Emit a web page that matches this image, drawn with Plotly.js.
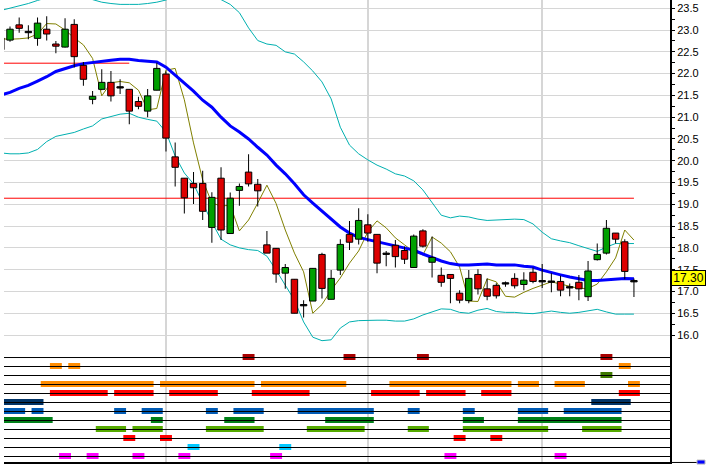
<!DOCTYPE html>
<html><head><meta charset="utf-8">
<script src="https://cdn.plot.ly/plotly-3.0.1.min.js"></script>
<style>html,body{margin:0;padding:0;background:#fff;overflow:hidden}#chart{width:711px;height:465px}</style>
</head><body><div id="chart"></div>
<script>
// candle positions (trading-day index; -1 is the partly hidden bar at the left edge)
const candleIndex = Array.from({length: 70}, (_, k) => k - 1);
const openPx  = [22.82,22.77,23.12,22.94,22.81,23.02,22.68,22.61,23.13,22.19,21.41,21.64,21.80,21.67,21.64,21.36,21.14,21.62,21.99,20.09,
 19.60,19.48,19.48,18.47,19.60,18.33,19.32,19.74,19.46,18.07,17.99,17.42,17.28,16.67,16.78,17.85,16.82,17.49,18.31,18.20,
 18.53,18.31,17.85,18.06,17.94,17.55,18.39,17.67,17.37,17.39,16.96,16.79,17.39,17.06,17.14,17.17,17.30,17.16,17.44,17.22,
 17.21,17.23,17.08,17.21,16.88,17.73,17.88,18.34,18.14,17.22];
const highPx  = [22.82,23.08,23.29,23.11,23.29,23.32,22.75,23.27,23.25,22.27,21.60,22.10,22.06,21.87,21.64,21.47,21.65,22.25,22.05,20.42,
 19.60,19.74,19.77,19.28,19.85,19.27,19.48,20.15,19.58,18.39,18.00,17.63,17.28,16.80,17.53,17.89,17.49,18.20,18.62,18.91,
 18.77,18.31,17.93,18.18,18.03,18.31,18.43,18.26,17.55,17.39,17.03,17.49,17.51,17.30,17.19,17.23,17.42,17.44,17.55,17.63,
 17.42,17.36,17.18,17.38,17.70,18.10,18.64,18.34,18.20,17.30];
const lowPx   = [22.53,22.73,22.94,22.79,22.64,22.76,22.47,22.60,22.14,21.72,21.30,21.62,21.36,21.53,20.84,21.18,21.00,21.62,20.21,19.41,
 18.79,19.01,18.64,18.12,18.18,18.33,18.97,19.41,18.95,17.88,17.20,17.06,16.50,16.40,16.78,16.84,16.82,17.38,17.95,18.08,
 18.14,17.42,17.58,17.55,17.63,17.55,18.01,17.32,17.11,16.73,16.73,16.73,16.93,16.80,16.84,17.11,17.07,17.03,17.19,17.08,
 16.98,16.89,16.89,16.80,16.78,17.71,17.85,18.10,17.28,16.87];
const closePx = [22.55,23.02,23.04,22.94,23.16,22.91,22.63,23.02,22.39,21.87,21.48,21.80,21.49,21.67,21.14,21.25,21.49,22.12,20.52,19.85,
 19.15,19.38,18.84,19.16,18.41,19.14,19.41,19.47,19.31,17.88,17.40,17.55,16.50,16.67,17.53,17.07,17.30,18.08,18.13,18.63,
 18.34,17.65,17.85,17.80,17.74,18.27,18.04,17.78,17.21,17.30,16.80,17.30,17.06,16.89,16.90,17.17,17.13,17.26,17.23,17.22,
 17.21,17.03,17.08,17.06,17.47,17.85,18.45,18.20,17.46,17.22];
const maBlue = [21.51,21.57,21.66,21.73,21.83,21.93,22.05,22.12,22.18,22.23,22.26,22.29,22.31,22.33,22.33,22.30,22.29,22.27,22.15,21.97,
 21.80,21.60,21.39,21.23,21.00,20.80,20.66,20.50,20.31,20.13,19.90,19.70,19.47,19.22,19.03,18.84,18.66,18.48,18.34,18.24,
 18.19,18.14,18.10,18.04,17.99,17.95,17.86,17.78,17.70,17.64,17.61,17.61,17.62,17.63,17.61,17.61,17.61,17.58,17.56,17.49,
 17.43,17.38,17.33,17.29,17.25,17.25,17.27,17.29,17.30,17.29];
const maOlive = [22.80,22.79,22.80,22.82,22.91,23.15,23.14,23.00,22.82,22.66,22.35,21.49,21.79,21.82,21.79,21.62,21.17,21.20,22.08,22.12,
 21.40,20.41,19.56,19.03,18.96,18.98,18.39,18.64,19.03,19.44,19.02,18.41,17.88,17.45,16.50,16.70,17.03,17.31,17.65,17.93,
 18.37,18.62,18.46,18.23,18.07,17.91,17.84,18.25,18.11,17.91,17.56,16.78,16.77,17.29,17.22,16.89,16.87,16.98,17.07,17.14,
 17.22,17.17,17.12,17.07,17.07,17.17,17.45,17.77,18.41,18.18];
const bandUpper = [23.45,23.50,23.55,23.61,23.68,23.74,23.78,23.80,23.80,23.77,23.70,23.64,23.61,23.59,23.59,23.59,23.61,23.64,23.69,23.78,
 23.82,23.84,23.83,23.78,23.70,23.59,23.40,23.05,22.76,22.68,22.65,22.50,22.45,22.27,22.06,21.81,21.42,20.77,20.36,20.16,
 20.02,19.90,19.81,19.70,19.65,19.54,19.33,19.05,18.75,18.69,18.73,18.71,18.66,18.63,18.64,18.66,18.66,18.65,18.55,18.36,
 18.21,18.16,18.12,18.05,17.99,17.92,18.02,18.10,18.10,18.10];
const bandLower = [20.18,20.16,20.16,20.18,20.26,20.44,20.56,20.60,20.65,20.73,20.80,20.96,21.02,21.07,21.09,21.00,20.95,20.91,20.66,20.11,
 19.72,19.47,19.03,18.59,18.20,18.07,18.00,17.96,17.94,17.81,17.49,17.15,16.80,16.30,15.95,15.87,15.89,16.16,16.30,16.33,
 16.34,16.34,16.34,16.32,16.32,16.37,16.46,16.53,16.60,16.59,16.52,16.50,16.57,16.61,16.54,16.52,16.52,16.50,16.49,16.52,
 16.55,16.52,16.50,16.52,16.55,16.59,16.53,16.48,16.48,16.48];
const levelValues = [22.24, 19.14];
const levelStart  = [-1, -1];
const levelEnd    = [13, 68];
const lastPriceLabel = '17.30';
const lastPriceValue = 17.30;
const monthStarts = [17, 39, 58];

// signal panel: one list of [firstBar, lastBar] per row, top to bottom
const signalColors = ['#a80000','#ff8c00','#3f7a00','#ff8c00','#ff0000','#003366','#005bb5','#008018','#55aa00','#ff0000','#00c8ff','#ff00ff'];
const signalRows = [
  [[26,26],[37,37],[45,45],[65,65]],
  [[5,5],[7,7],[67,67]],
  [[65,65]],
  [[4,15],[17,26],[28,36],[42,54],[56,57],[60,62],[68,68]],
  [[5,10],[12,15],[18,22],[27,32],[40,44],[46,49],[52,54],[67,68]],
  [[-3,3],[64,67]],
  [[-3,1],[3,3],[12,12],[15,16],[22,22],[25,27],[32,39],[44,44],[50,50],[56,58],[61,66]],
  [[-3,4],[16,16],[24,26],[35,39],[50,51],[56,66]],
  [[10,12],[14,16],[22,27],[33,38],[44,45],[50,58],[63,66]],
  [[13,13],[17,17],[49,49],[53,53]],
  [[20,20],[30,30]],
  [[6,6],[9,9],[14,14],[19,19],[29,29],[48,48],[60,60]]
];

const GREEN = '#00a000', RED = '#dd0000';
const traces = [];
traces.push({type:'scatter', mode:'lines', x:candleIndex, y:bandUpper, line:{color:'#00b0b0', width:1}, xaxis:'x', yaxis:'y', hoverinfo:'skip'});
traces.push({type:'scatter', mode:'lines', x:candleIndex, y:bandLower, line:{color:'#00b0b0', width:1}, xaxis:'x', yaxis:'y', hoverinfo:'skip'});
levelValues.forEach((v, k) => {
  traces.push({type:'scatter', mode:'lines', x:[levelStart[k], levelEnd[k]], y:[v, v], line:{color:'#ff0000', width:1}, xaxis:'x', yaxis:'y', hoverinfo:'skip'});
});
traces.push({type:'scatter', mode:'lines', x:candleIndex, y:maOlive, line:{color:'#808000', width:1}, xaxis:'x', yaxis:'y', hoverinfo:'skip'});
traces.push({type:'scatter', mode:'lines', x:candleIndex, y:maBlue, line:{color:'#0000ff', width:3}, xaxis:'x', yaxis:'y', hoverinfo:'skip'});

// candles: wicks then bodies, on an overlaid axis so they sit above the lines
traces.push({type:'bar', x:candleIndex, base:lowPx, y:highPx.map((h, k) => h - lowPx[k]), width:0.11,
  marker:{color:'#000', line:{width:0}}, xaxis:'x', yaxis:'y3', hoverinfo:'skip'});
const bodyBase = openPx.map((o, k) => Math.min(o, closePx[k]));
const bodyLen = openPx.map((o, k) => Math.max(Math.abs(closePx[k] - o), 0.03));
const bodyCol = openPx.map((o, k) => closePx[k] > o ? GREEN : (closePx[k] < o ? RED : '#000'));
traces.push({type:'bar', x:candleIndex, base:bodyBase, y:bodyLen, width:0.7,
  marker:{color:bodyCol, line:{color:'#000', width:1}}, xaxis:'x', yaxis:'y3', hoverinfo:'skip'});

// signal bars
const sy = [], sx = [], sb = [], sc = [];
signalRows.forEach((row, r) => row.forEach(([a, b]) => {
  sy.push(r); sb.push(a - 0.65); sx.push(b - a + 1.3); sc.push(signalColors[r]);
}));
traces.push({type:'bar', orientation:'h', y:sy, x:sx, base:sb, width:0.667, marker:{color:sc, line:{width:0}}, xaxis:'x', yaxis:'y2', hoverinfo:'skip'});

const shapes = [];
for (let r = 0; r < signalRows.length; r++) {
  shapes.push({type:'line', xref:'paper', x0:0, x1:1, yref:'y2', y0:r + 0.0556, y1:r + 0.0556, line:{color:'#000', width:1}, layer:'above'});
}
shapes.push({type:'line', xref:'paper', yref:'paper', x0:1.003, x1:1.0405, y0:-0.001, y1:-0.001, line:{color:'#000', width:1}});
shapes.push({type:'rect', xref:'paper', yref:'paper', x0:1.0405, x1:1.0526, y0:-0.0045, y1:0.0043, fillcolor:'#0000ff', line:{color:'#c0c0c0', width:1}});

const yRange = [15.7704, 23.6905];
const layout = {
  width:711, height:465,
  margin:{l:4, r:41, t:0, b:3, pad:0},
  paper_bgcolor:'#ffffff', plot_bgcolor:'#ffffff',
  showlegend:false, barmode:'overlay',
  font:{family:'Liberation Sans, Arial, sans-serif', size:11, color:'#000'},
  xaxis:{range:[-0.654, 71.93], tickvals:monthStarts, showticklabels:false, ticks:'', showgrid:true,
    gridcolor:'#d6d6d6', gridwidth:2, zeroline:false, showline:true, linecolor:'#000', linewidth:2, anchor:'y2', fixedrange:true},
  yaxis:{domain:[0.2532, 1], range:yRange, side:'right', anchor:'x', dtick:0.5, tick0:0, tickformat:'.1f',
    ticks:'outside', ticklen:3, tickwidth:1, tickcolor:'#000', showgrid:true, gridcolor:'#d6d6d6', gridwidth:1,
    zeroline:false, showline:true, linecolor:'#000', linewidth:2, fixedrange:true,
    minor:{dtick:0.25, ticks:'outside', ticklen:3, tickwidth:1, tickcolor:'#000', showgrid:false}},
  yaxis2:{domain:[0, 0.2532], range:[11.667, -1.333], side:'right', anchor:'x', showgrid:false, zeroline:false,
    showticklabels:false, ticks:'', showline:true, linecolor:'#000', linewidth:2, fixedrange:true},
  yaxis3:{overlaying:'y', range:yRange, visible:false, fixedrange:true},
  shapes:shapes,
  annotations:[{xref:'paper', x:1, xanchor:'left', xshift:1, yref:'y', y:lastPriceValue, text:lastPriceLabel,
    showarrow:false, bgcolor:'#ffff00', bordercolor:'#000', borderwidth:1, borderpad:1, width:31, height:12,
    font:{size:12, color:'#000'}}]
};
Plotly.newPlot('chart', traces, layout, {staticPlot:true, displayModeBar:false});
</script></body></html>
